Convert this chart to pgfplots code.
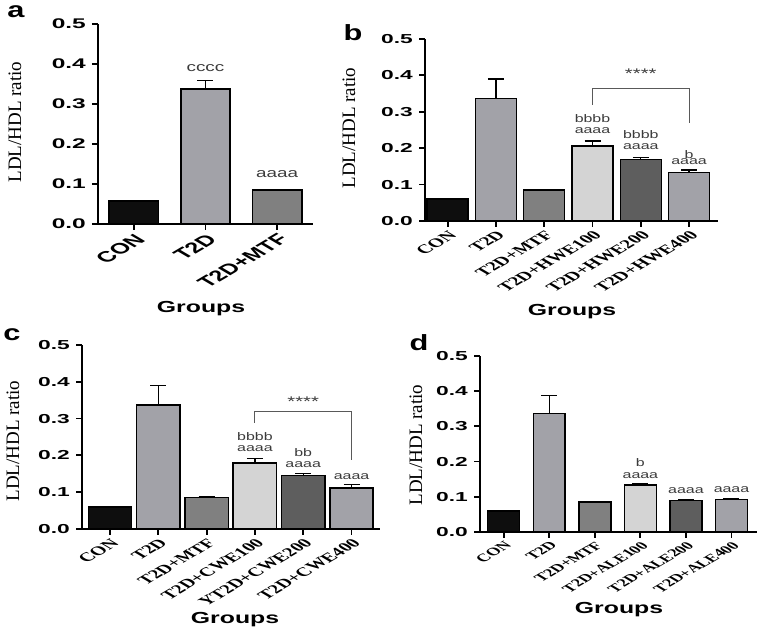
\documentclass[border=0pt]{standalone}
\usepackage{fontspec}
\setmainfont{Liberation Sans}
\newfontfamily\tnr{Liberation Serif}
\usepackage{pgfplots}
\pgfplotsset{compat=1.18}
\definecolor{cK}{HTML}{0E0E0E}
\definecolor{cT}{HTML}{A2A2A8}
\definecolor{cM}{HTML}{808080}
\definecolor{cL}{HTML}{D4D4D4}
\definecolor{cD}{HTML}{5E5E5E}
\definecolor{annc}{HTML}{3C3C3C}
\pgfplotsset{
 panel/.style={
  scale only axis, anchor=south west, clip=false,
  axis x line*=bottom, axis y line*=left,
  ymin=0, ymax=0.5, ytick={0,0.1,0.2,0.3,0.4,0.5},
  tick align=outside, major tick length=6pt,
  axis line style={line width=1.8pt},
  tick style={line width=1.8pt, black},
  /pgf/number format/assume math mode=true,
  yticklabel style={/pgf/number format/fixed, /pgf/number format/fixed zerofill, /pgf/number format/precision=1,
     xscale=1.75},
  xtick={0,1,2,3,4,5},
  xticklabel style={cm={1.202,0.707,-1.202,0.707,(0,0)}, anchor=north east, inner sep=2pt},
 },
}
\tikzset{ann/.style={font=\fontsize{11}{12}\selectfont, text=annc, xscale=1.45, inner sep=0pt}}
\newcommand\bbar[4]{\addplot[ybar, bar shift=0pt, fill=#1, draw=black, line width=1.5pt,
  error bars/.cd, y dir=plus, y explicit,
  error bar style={line width=1.3pt, black},
  error mark options={rotate=90, mark size=8pt, line width=1.3pt, black}]
  coordinates {(#2,#3) +- (0,#4)};}
\newcommand\ylab[2]{\node[font=\tnr\fontsize{19}{19}\selectfont, cm={0,1,-1,0,(0,0)}] at (#1,#2) {LDL/HDL ratio};}
\newcommand\grp[2]{\node[font=\bfseries\fontsize{16}{16}\selectfont, xscale=1.55] at (#1,#2) {Groups};}
\newcommand\plet[3]{\node[font=\bfseries\fontsize{22}{22}\selectfont, xscale=1.4] at (#1,#2) {#3};}
\begin{document}
\begin{tikzpicture}[x=1pt,y=1pt]
\path[use as bounding box] (0,0) rectangle (761,637);
% ---------- a ----------
\begin{axis}[panel, at={(98pt,413pt)}, width=215pt, height=200pt,
  xmin=-0.5, xmax=2.5, bar width=0.69, xtick={0,1,2},
  yticklabel style={font=\bfseries\fontsize{14}{14}\selectfont},
  xticklabels={CON,T2D,T2D+MTF},
  xticklabel style={font=\bfseries\fontsize{15}{15}\selectfont}]
\bbar{cK}{0}{0.058}{0.001}
\bbar{cT}{1}{0.3375}{0.022}
\bbar{cM}{2}{0.085}{0.001}
\node[ann, font=\fontsize{13}{13}\selectfont] at (axis cs:1,0.39) {cccc};
\node[ann, font=\fontsize{13}{13}\selectfont] at (axis cs:2,0.126) {aaaa};
\end{axis}
% ---------- b ----------
\begin{axis}[panel, at={(425pt,416pt)}, width=293pt, height=182pt,
  xmin=-0.47, xmax=5.6, bar width=0.85,
  yticklabel style={font=\bfseries\fontsize{13}{13}\selectfont},
  xticklabel style={font=\tnr\bfseries\fontsize{12.5}{13}\selectfont},
  xticklabels={CON,T2D,T2D+MTF,T2D+HWE100,T2D+HWE200,T2D+HWE400}]
\bbar{cK}{0}{0.06}{0.001}
\bbar{cT}{1}{0.337}{0.053}
\bbar{cM}{2}{0.085}{0.002}
\bbar{cL}{3}{0.206}{0.014}
\bbar{cD}{4}{0.169}{0.006}
\bbar{cT}{5}{0.133}{0.007}
\draw[gray!70!black, line width=0.9pt] (axis cs:3,0.319) -- (axis cs:3,0.364) -- (axis cs:5,0.364) -- (axis cs:5,0.27);
\node[ann, font=\fontsize{14}{14}\selectfont] at (axis cs:4,0.405) {****};
\node[ann] at (axis cs:3,0.282) {bbbb};
\node[ann] at (axis cs:3,0.247) {aaaa};
\node[ann] at (axis cs:4,0.238) {bbbb};
\node[ann] at (axis cs:4,0.204) {aaaa};
\node[ann] at (axis cs:5,0.183) {b};
\node[ann] at (axis cs:5,0.163) {aaaa};
\end{axis}
% ---------- c ----------
\begin{axis}[panel, at={(82pt,108pt)}, width=298pt, height=184pt,
  xmin=-0.58, xmax=5.59, bar width=0.9,
  yticklabel style={font=\bfseries\fontsize{13}{13}\selectfont},
  xticklabel style={font=\tnr\bfseries\fontsize{12.5}{13}\selectfont},
  xticklabels={CON,T2D,T2D+MTF,T2D+CWE100,YT2D+CWE200,T2D+CWE400}]
\bbar{cK}{0}{0.06}{0.001}
\bbar{cT}{1}{0.337}{0.052}
\bbar{cM}{2}{0.086}{0.002}
\bbar{cL}{3}{0.18}{0.011}
\bbar{cD}{4}{0.145}{0.006}
\bbar{cT}{5}{0.112}{0.009}
\draw[gray!70!black, line width=0.9pt] (axis cs:3,0.289) -- (axis cs:3,0.319) -- (axis cs:5,0.319) -- (axis cs:5,0.1875);
\node[ann, font=\fontsize{14}{14}\selectfont] at (axis cs:4,0.345) {****};
\node[ann] at (axis cs:3,0.251) {bbbb};
\node[ann] at (axis cs:3,0.219) {aaaa};
\node[ann] at (axis cs:4,0.207) {bb};
\node[ann] at (axis cs:4,0.174) {aaaa};
\node[ann] at (axis cs:5,0.142) {aaaa};
\end{axis}
% ---------- d ----------
\begin{axis}[panel, at={(480pt,105pt)}, width=277pt, height=176pt,
  xmin=-0.52, xmax=5.56, bar width=0.7,
  yticklabel style={font=\bfseries\fontsize{13}{13}\selectfont},
  xticklabel style={font=\tnr\bfseries\fontsize{11}{12}\selectfont},
  xticklabels={CON,T2D,T2D+MTF,T2D+ALE100,T2D+ALE200,T2D+ALE400}]
\bbar{cK}{0}{0.059}{0.001}
\bbar{cT}{1}{0.336}{0.052}
\bbar{cM}{2}{0.085}{0.002}
\bbar{cL}{3}{0.133}{0.004}
\bbar{cD}{4}{0.09}{0.003}
\bbar{cT}{5}{0.092}{0.003}
\node[ann] at (axis cs:3,0.197) {b};
\node[ann] at (axis cs:3,0.161) {aaaa};
\node[ann] at (axis cs:4,0.118) {aaaa};
\node[ann] at (axis cs:5,0.121) {aaaa};
\end{axis}
% ---------- outer labels ----------
\ylab{15}{515}
\ylab{349}{509}
\ylab{13}{196}
\ylab{416}{192}
\grp{201}{328}
\grp{572}{325}
\grp{235}{17}
\grp{619}{27}
\plet{16}{625}{a}
\plet{353}{604}{b}
\plet{12}{302}{c}
\plet{419}{294}{d}
\end{tikzpicture}
\end{document}
